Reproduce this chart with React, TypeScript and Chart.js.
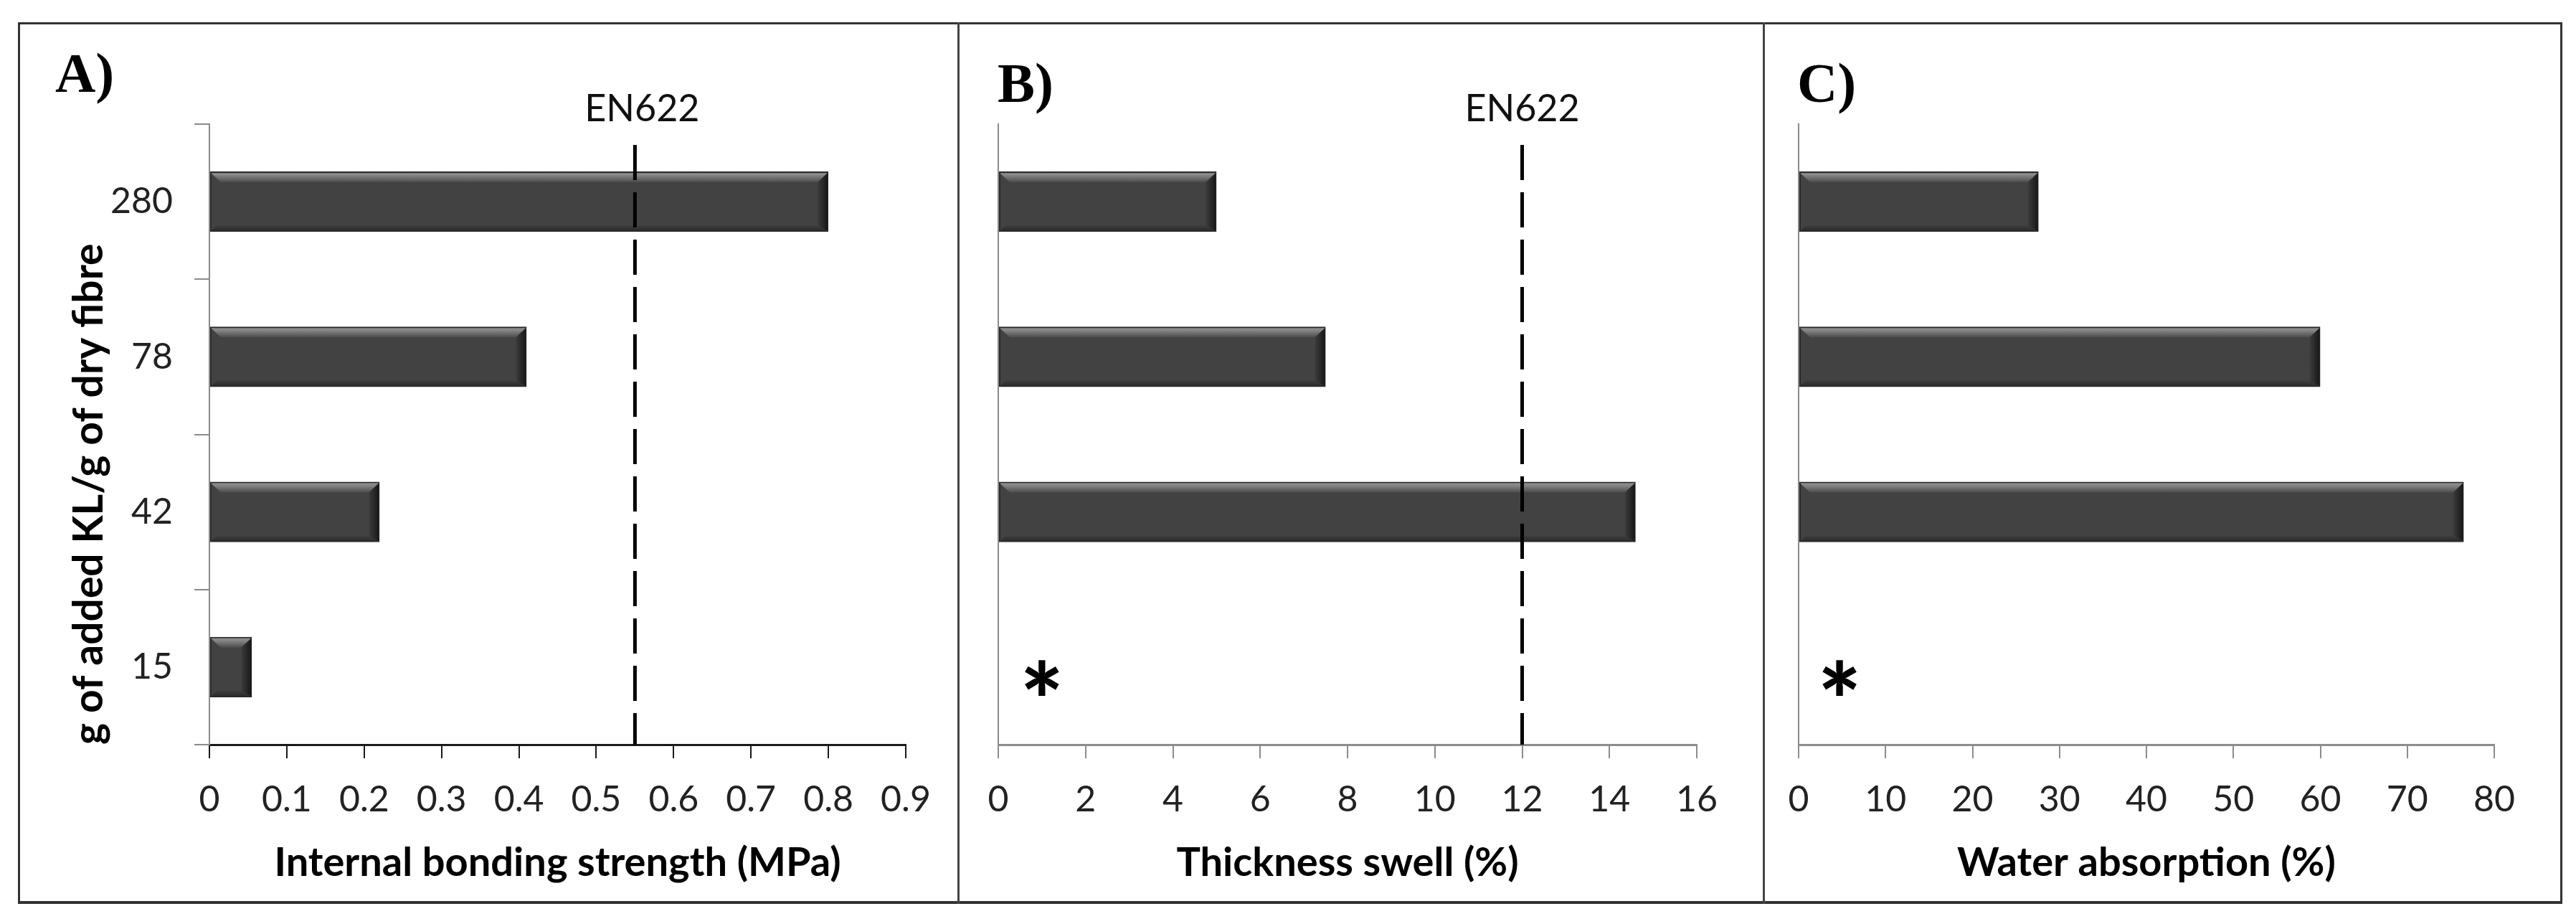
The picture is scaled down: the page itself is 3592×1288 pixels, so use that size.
import React, { useEffect, useRef } from 'react';
import { Chart, registerables } from 'chart.js';

Chart.register(...registerables);

// ---------------- data ----------------
const CATEGORIES = ['280', '78', '42', '15'];
const IB_VALUES = [0.8, 0.41, 0.22, 0.055];
const TS_VALUES = [5.0, 7.5, 14.6, null];
const WA_VALUES = [27.6, 60.0, 76.5, null];
const IB_TICKS = [0, 0.1, 0.2, 0.3, 0.4, 0.5, 0.6, 0.7, 0.8, 0.9];
const TS_TICKS = [0, 2, 4, 6, 8, 10, 12, 14, 16];
const WA_TICKS = [0, 10, 20, 30, 40, 50, 60, 70, 80];
const EN622_LABEL = 'EN622';
const EN622_IB = 0.55;
const EN622_TS = 12;
const MISSING_MARK = '*';
const TS_MISSING = { category: '15', value: 1.0 };
const WA_MISSING = { category: '15', value: 4.7 };
const Y_TITLE = 'g of added KL/g of dry fibre';
const X_TITLES = ['Internal bonding strength (MPa)', 'Thickness swell (%)', 'Water absorption (%)'];
const PANEL_LABELS = ['A)', 'B)', 'C)'];

const FONT = 'Lato, "Noto Sans", sans-serif';

// ---------------- plugin ----------------
const decorPlugin = {
  id: 'decor',
  afterDatasetsDraw(chart: any, _args: any, opts: any) {
    const ctx: CanvasRenderingContext2D = chart.ctx;
    // bevel on bars
    chart.getSortedVisibleDatasetMetas().forEach((meta: any) => {
      meta.data.forEach((el: any) => {
        const p = el.getProps(['x', 'y', 'base', 'height'], true);
        if (p.x == null || isNaN(p.x) || isNaN(p.base)) return;
        const left = Math.min(p.base, p.x);
        const right = Math.max(p.base, p.x);
        const top = p.y - p.height / 2;
        const bottom = p.y + p.height / 2;
        const w = right - left;
        const h = bottom - top;
        if (w <= 2) return;
        const b = Math.min(15, w / 2, h / 3);
        ctx.save();
        // top highlight band
        let g = ctx.createLinearGradient(0, top, 0, top + b);
        g.addColorStop(0, '#5a5a5a');
        g.addColorStop(0.25, '#8e8e8e');
        g.addColorStop(1, '#4c4c4c');
        ctx.fillStyle = g;
        ctx.beginPath();
        ctx.moveTo(left + 1, top + 2);
        ctx.lineTo(right - 1, top + 2);
        ctx.lineTo(right - b, top + b);
        ctx.lineTo(left + b, top + b);
        ctx.closePath();
        ctx.fill();
        // right dark band
        g = ctx.createLinearGradient(right - b, 0, right, 0);
        g.addColorStop(0, '#3c3c3c');
        g.addColorStop(1, '#151515');
        ctx.fillStyle = g;
        ctx.beginPath();
        ctx.moveTo(right - 1, top + 2);
        ctx.lineTo(right - 1, bottom - 1);
        ctx.lineTo(right - b, bottom - b * 0.6);
        ctx.lineTo(right - b, top + b);
        ctx.closePath();
        ctx.fill();
        // bottom dark band
        g = ctx.createLinearGradient(0, bottom - b * 0.6, 0, bottom);
        g.addColorStop(0, '#3e3e3e');
        g.addColorStop(1, '#262626');
        ctx.fillStyle = g;
        ctx.beginPath();
        ctx.moveTo(left + 1, bottom - 1);
        ctx.lineTo(right - 1, bottom - 1);
        ctx.lineTo(right - b, bottom - b * 0.6);
        ctx.lineTo(left + b * 0.6, bottom - b * 0.6);
        ctx.closePath();
        ctx.fill();
        ctx.restore();
      });
    });

    const xs = chart.scales.x;
    const ys = chart.scales.y;
    const area = chart.chartArea;

    // reference (EN622) line
    if (opts.refValue != null) {
      const x = xs.getPixelForValue(opts.refValue);
      ctx.save();
      ctx.strokeStyle = '#000';
      ctx.lineWidth = 5;
      ctx.setLineDash([49, 17]);
      ctx.beginPath();
      ctx.moveTo(x, area.top + 29);
      ctx.lineTo(x, area.bottom);
      ctx.stroke();
      ctx.setLineDash([]);
      ctx.fillStyle = '#111';
      ctx.font = `52px ${FONT}`;
      ctx.textAlign = 'center';
      ctx.textBaseline = 'alphabetic';
      ctx.fillText(opts.refLabel, x + (opts.refLabelShift || 0), area.top - 4);
      ctx.restore();
    }

    // missing-value mark
    if (opts.mark) {
      const x = xs.getPixelForValue(opts.mark.value);
      const yc = ys.getPixelForValue(CATEGORIES.indexOf(opts.mark.category)) + 15;
      ctx.save();
      ctx.fillStyle = '#000';
      ctx.font = `900 100px ${FONT}`;
      let m = ctx.measureText(opts.mark.text);
      const gh = m.actualBoundingBoxAscent + m.actualBoundingBoxDescent;
      const size = gh > 0 ? (100 * 50) / gh : 100;
      ctx.font = `900 ${size}px ${FONT}`;
      m = ctx.measureText(opts.mark.text);
      ctx.textAlign = 'center';
      ctx.textBaseline = 'alphabetic';
      const baseline = yc + (m.actualBoundingBoxAscent - m.actualBoundingBoxDescent) / 2;
      ctx.fillText(opts.mark.text, x, baseline);
      ctx.restore();
    }
  },
  afterDraw(chart: any, _args: any, opts: any) {
    const ctx: CanvasRenderingContext2D = chart.ctx;
    if (opts.panelLabel) {
      ctx.save();
      ctx.fillStyle = '#000';
      ctx.font = 'bold 78px "Liberation Serif", "DejaVu Serif", serif';
      ctx.textAlign = 'left';
      ctx.textBaseline = 'alphabetic';
      ctx.fillText(opts.panelLabel, opts.labelX, opts.labelBaseline);
      ctx.restore();
    }
  },
};

// ---------------- panel ----------------
type PanelProps = {
  left: number;
  top: number;
  width: number;
  height: number;
  values: (number | null)[];
  ticks: number[];
  xTitle: string;
  showY: boolean;
  yWidth: number;
  padTop: number;
  padRight: number;
  xHeight: number;
  xColor: string;
  decor: any;
};

function Panel(props: PanelProps) {
  const ref = useRef<HTMLCanvasElement | null>(null);
  useEffect(() => {
    if (!ref.current) return;
    const p = props;
    const chart = new Chart(ref.current, {
      type: 'bar',
      data: {
        labels: CATEGORIES,
        datasets: [
          {
            data: p.values as any,
            backgroundColor: '#424242',
            borderColor: '#2a2a2a',
            borderWidth: 2,
            borderSkipped: false,
            categoryPercentage: 1,
            barPercentage: 0.39,
          } as any,
        ],
      },
      options: {
        indexAxis: 'y',
        responsive: false,
        animation: false,
        events: [],
        layout: { padding: { left: 0, top: p.padTop, right: p.padRight, bottom: 0 } },
        plugins: {
          legend: { display: false },
          tooltip: { enabled: false },
          decor: p.decor,
        } as any,
        scales: {
          x: {
            type: 'linear',
            min: p.ticks[0],
            max: p.ticks[p.ticks.length - 1],
            afterBuildTicks: (s: any) => {
              s.ticks = p.ticks.map((v) => ({ value: v }));
            },
            afterFit: (s: any) => {
              s.height = p.xHeight;
            },
            ticks: {
              callback: (v: any) => String(v),
              font: { family: FONT, size: 50 },
              color: '#222',
              padding: 28,
              maxRotation: 0,
              autoSkip: false,
            },
            grid: {
              drawOnChartArea: false,
              drawTicks: true,
              tickLength: 19,
              color: p.xColor,
              lineWidth: 2,
            },
            border: { color: p.xColor, width: 3 },
            title: {
              display: true,
              text: p.xTitle,
              font: { family: FONT, size: 56, weight: 'bold' },
              color: '#000',
              padding: { top: 0, bottom: 17 },
            },
          },
          y: {
            type: 'category',
            afterFit: (s: any) => {
              s.width = p.yWidth;
            },
            ticks: {
              display: p.showY,
              font: { family: FONT, size: 50 },
              color: '#222',
              padding: 30,
            },
            grid: {
              display: p.showY,
              offset: true,
              drawOnChartArea: false,
              drawTicks: true,
              tickLength: 21,
              color: '#8a8a8a',
              lineWidth: 2,
            },
            border: { color: '#8a8a8a', width: 2 },
            title: {
              display: p.showY,
              text: Y_TITLE,
              align: 'start',
              font: { family: FONT, size: 57, weight: 'bold' },
              color: '#000',
              padding: { top: 60, bottom: 0 },
            },
          },
        },
      } as any,
      plugins: [decorPlugin as any],
    });
    return () => chart.destroy();
  }, []);
  return (
    <canvas
      ref={ref}
      width={props.width}
      height={props.height}
      style={{ position: 'absolute', left: props.left, top: props.top, width: props.width, height: props.height }}
    />
  );
}

export default function App() {
  return (
    <div style={{ position: 'absolute', left: 0, top: 0, width: 3592, height: 1288, background: '#fff', overflow: 'hidden' }}>
      {/* outer frame and dividers */}
      <div
        style={{
          position: 'absolute',
          left: 25,
          top: 31,
          width: 3548,
          height: 1229,
          boxSizing: 'border-box',
          border: '3px solid #333',
          borderBottomWidth: 4,
        }}
      />
      <div style={{ position: 'absolute', left: 1335, top: 31, width: 3, height: 1229, background: '#444' }} />
      <div style={{ position: 'absolute', left: 2458, top: 31, width: 3, height: 1229, background: '#444' }} />

      <Panel
        left={30}
        top={36}
        width={1304}
        height={1218}
        values={IB_VALUES}
        ticks={IB_TICKS}
        xTitle={X_TITLES[0]}
        showY={true}
        yWidth={262}
        padTop={137}
        padRight={71}
        xHeight={216}
        xColor="#1a1a1a"
        decor={{ panelLabel: PANEL_LABELS[0], labelX: 47, labelBaseline: 92, refValue: EN622_IB, refLabel: EN622_LABEL, refLabelShift: 10, mark: null }}
      />
      <Panel
        left={1340}
        top={36}
        width={1116}
        height={1218}
        values={TS_VALUES}
        ticks={TS_TICKS}
        xTitle={X_TITLES[1]}
        showY={false}
        yWidth={52}
        padTop={137}
        padRight={90}
        xHeight={216}
        xColor="#8c8c8c"
        decor={{ panelLabel: PANEL_LABELS[1], labelX: 51, labelBaseline: 106, refValue: EN622_TS, refLabel: EN622_LABEL, refLabelShift: 0, mark: { ...TS_MISSING, text: MISSING_MARK } }}
      />
      <Panel
        left={2463}
        top={36}
        width={1104}
        height={1218}
        values={WA_VALUES}
        ticks={WA_TICKS}
        xTitle={X_TITLES[2]}
        showY={false}
        yWidth={45}
        padTop={137}
        padRight={89}
        xHeight={216}
        xColor="#8c8c8c"
        decor={{ panelLabel: PANEL_LABELS[2], labelX: 43, labelBaseline: 106, refValue: null, refLabel: '', mark: { ...WA_MISSING, text: MISSING_MARK } }}
      />
    </div>
  );
}
